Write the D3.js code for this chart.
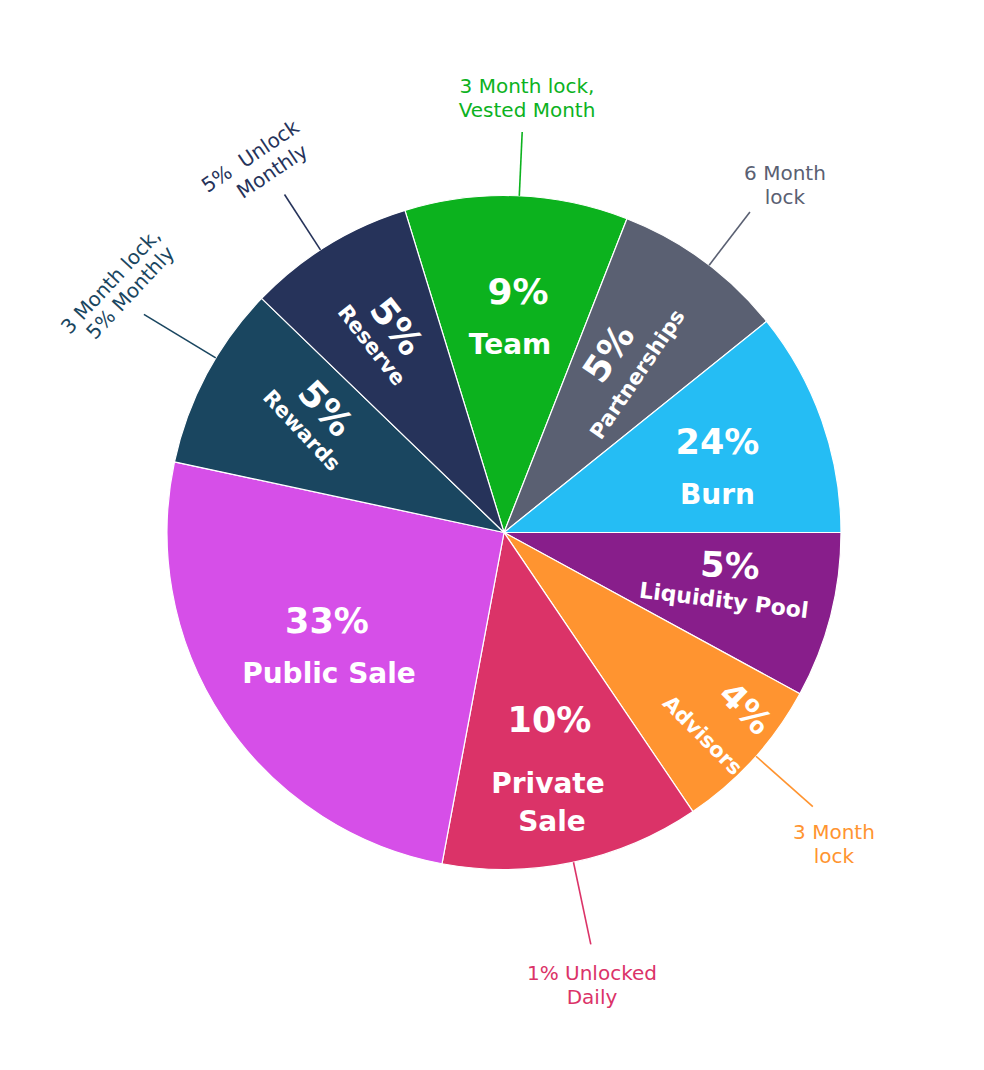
<!DOCTYPE html>
<html>
<head>
<meta charset="utf-8">
<script src="https://cdn.jsdelivr.net/npm/d3@7"></script>
<style>
  html, body { margin: 0; padding: 0; background: #ffffff; }
  svg { display: block; }
</style>
</head>
<body>
<svg id="chart" width="984" height="1070"></svg>
<script>
// ---- data ----
const categories   = ["Team", "Partnerships", "Burn", "Liquidity Pool", "Advisors", "Private Sale", "Public Sale", "Rewards", "Reserve"];
// angular share of each slice as drawn in the picture (degrees of the circle)
const sliceShares  = [38.5, 29.8, 38.8, 28.6, 27.3, 44.7, 91.5, 31.9, 28.9];
const percentLabels = ["9%", "5%", "24%", "5%", "4%", "10%", "33%", "5%", "5%"];
const colors       = ["#0cb21e", "#5a6072", "#25bdf4", "#881e8b", "#ff9430", "#db3368", "#d64fe8", "#1a4660", "#26335a"];

const notes = [
  { lines: ["3 Month lock,", "Vested Month"], color: "#0cb21e" },
  { lines: ["6 Month", "lock"], color: "#5a6072" },
  { lines: ["3 Month", "lock"], color: "#ff9430" },
  { lines: ["1% Unlocked", "Daily"], color: "#db3368" },
  { lines: ["5%\u00a0 Unlock", "Monthly"], color: "#26335a" },
  { lines: ["3 Month lock,", "5% Monthly"], color: "#1a4660" }
];

// ---- layout ----
const W = 984, H = 1070;
const cx = 504, cy = 532.5, R = 337;
const startDeg = -17.1;
const rad = d => d * Math.PI / 180;

const svg = d3.select("#chart");
const g = svg.append("g").attr("transform", `translate(${cx},${cy})`);

const pie = d3.pie().sort(null).value(d => d)
  .startAngle(rad(startDeg)).endAngle(rad(startDeg + 360));
const arc = d3.arc().innerRadius(0).outerRadius(R);

g.selectAll("path.slice")
  .data(pie(sliceShares))
  .join("path")
  .attr("class", "slice")
  .attr("d", arc)
  .attr("fill", (d, i) => colors[i])
  .attr("stroke", "#ffffff")
  .attr("stroke-width", 1.2)
  .attr("stroke-linejoin", "round");

// ---- slice labels (absolute centres, rotation) ----
const BOLD = "'DejaVu Sans', sans-serif";
const labelLayout = [
  // Team
  [{ t: 0, x: 518, y: 291.5, r: 0, s: 36 }, { t: 1, x: 510, y: 344, r: 0, s: 28 }],
  // Partnerships
  [{ t: 0, x: 608, y: 353, r: -56, s: 36 }, { t: 1, x: 637, y: 374, r: -56, s: 21 }],
  // Burn
  [{ t: 0, x: 717.5, y: 441.5, r: 0, s: 35 }, { t: 1, x: 717.5, y: 494, r: 0, s: 28 }],
  // Liquidity Pool
  [{ t: 0, x: 730, y: 565, r: 3, s: 35 }, { t: 1, x: 724, y: 600, r: 7, s: 22 }],
  // Advisors
  [{ t: 0, x: 746, y: 708, r: 45, s: 34 }, { t: 1, x: 703, y: 735, r: 45, s: 21 }],
  // Private Sale
  [{ t: 0, x: 549.5, y: 719.5, r: 0, s: 35 }, { t: 2, x: 548, y: 783, r: 0, s: 28, w: "Private" }, { t: 2, x: 552, y: 821, r: 0, s: 28, w: "Sale" }],
  // Public Sale
  [{ t: 0, x: 327, y: 620, r: 0, s: 35 }, { t: 1, x: 329, y: 673, r: 0, s: 28 }],
  // Rewards
  [{ t: 0, x: 326, y: 408, r: 47, s: 36 }, { t: 1, x: 302, y: 430, r: 47, s: 21 }],
  // Reserve
  [{ t: 0, x: 397, y: 326, r: 52, s: 36 }, { t: 1, x: 372, y: 345, r: 52, s: 21 }]
];

labelLayout.forEach((items, i) => {
  items.forEach(it => {
    const txt = it.t === 0 ? percentLabels[i] : (it.t === 1 ? categories[i] : it.w);
    svg.append("text")
      .attr("transform", `translate(${it.x},${it.y}) rotate(${it.r})`)
      .attr("text-anchor", "middle")
      .attr("dy", "0.36em")
      .attr("font-family", BOLD)
      .attr("font-weight", 700)
      .attr("font-size", it.s)
      .attr("fill", "#ffffff")
      .text(txt);
  });
});

// ---- leader lines (radial, by angle) ----
const leaders = [
  { a: 2.6, r1: 401, c: 0 },
  { a: 37.5, r1: 404, c: 1 },
  { a: 131.6, r1: 413, c: 2 },
  { a: 168.1, r1: 421, c: 3 },
  { a: -33, r1: 403, c: 4 },
  { a: -58.8, r1: 421, c: 5 }
];
leaders.forEach(l => {
  const p0 = d3.pointRadial(rad(l.a), R);
  const p1 = d3.pointRadial(rad(l.a), l.r1);
  g.append("line")
    .attr("x1", p0[0]).attr("y1", p0[1])
    .attr("x2", p1[0]).attr("y2", p1[1])
    .attr("stroke", notes[l.c].color)
    .attr("stroke-width", 1.6);
});

// ---- annotation texts ----
const REG = "'DejaVu Sans', sans-serif";
const noteLayout = [
  [{ x: 527, y: 86, r: 0 }, { x: 527, y: 110, r: 0 }],
  [{ x: 785, y: 173, r: 0 }, { x: 785, y: 197, r: 0 }],
  [{ x: 834, y: 832, r: 0 }, { x: 834, y: 856, r: 0 }],
  [{ x: 592, y: 973, r: 0 }, { x: 592, y: 997, r: 0 }],
  [{ x: 250, y: 156, r: -34 }, { x: 272, y: 171, r: -34 }],
  [{ x: 110.5, y: 281, r: -47 }, { x: 130, y: 292.5, r: -47 }]
];
notes.forEach((n, i) => {
  n.lines.forEach((line, j) => {
    const p = noteLayout[i][j];
    svg.append("text")
      .attr("transform", `translate(${p.x},${p.y}) rotate(${p.r})`)
      .attr("text-anchor", "middle")
      .attr("dy", "0.36em")
      .attr("font-family", REG)
      .attr("font-size", 20)
      .attr("fill", n.color)
      .text(line);
  });
});
</script>
</body>
</html>
